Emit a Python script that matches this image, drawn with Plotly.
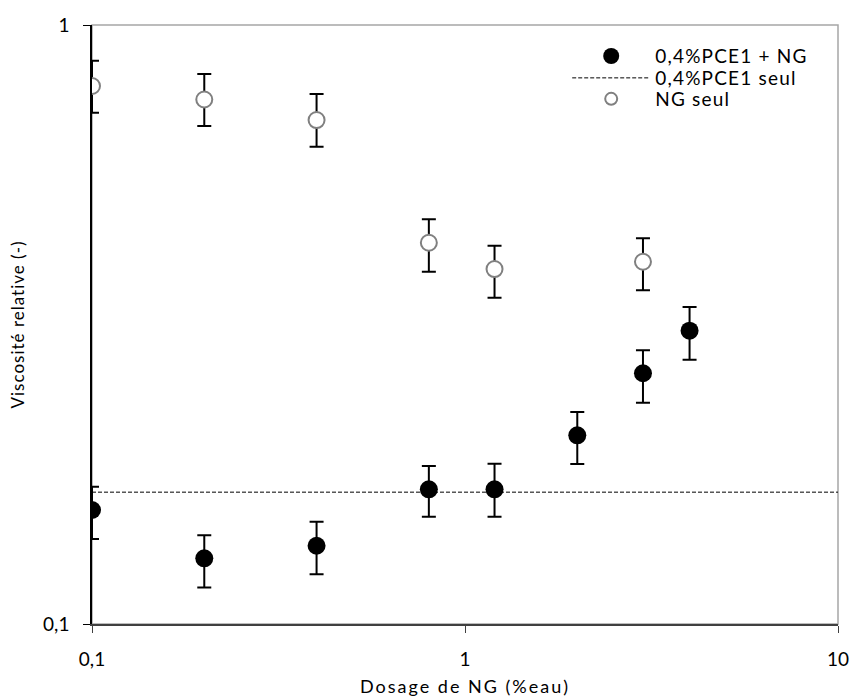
import plotly.graph_objects as go

# Data
dosage_mix = [0.1, 0.2, 0.4, 0.8, 1.2, 2, 3, 4]
visc_mix = [0.155, 0.1287, 0.1351, 0.1678, 0.1678, 0.2065, 0.2622, 0.3088]
visc_mix_hi = [0.1695, 0.1406, 0.1482, 0.1836, 0.1852, 0.2259, 0.2864, 0.3381]
visc_mix_lo = [0.1386, 0.1151, 0.1211, 0.151, 0.151, 0.185, 0.2341, 0.2762]

dosage_ng = [0.1, 0.2, 0.4, 0.8, 1.2, 3]
visc_ng = [0.791, 0.751, 0.694, 0.433, 0.3914, 0.4025]
visc_ng_hi = [0.872, 0.828, 0.767, 0.474, 0.428, 0.4404]
visc_ng_lo = [0.714, 0.678, 0.626, 0.3875, 0.3505, 0.3606]

pce_seul_x = [0.1, 10]
pce_seul = [0.166, 0.166]

x_ticks = [0.1, 1, 10]
x_ticktext = ["0,1", "1", "10"]
y_ticks = [0.1, 1]
y_ticktext = ["0,1", "1"]

FONT = "Lato, Liberation Sans, sans-serif"


def spaced(s, px=1):
    return '<span style="letter-spacing:%spx">%s</span>' % (px, s)


fig = go.Figure()

fig.add_trace(go.Scatter(
    x=dosage_mix, y=visc_mix, mode="markers", name=spaced("0,4%PCE1 + NG", 1.2),
    legend="legend",
    marker=dict(color="black", size=18, line=dict(width=0)),
    error_y=dict(type="data", symmetric=False,
                 array=[h - v for h, v in zip(visc_mix_hi, visc_mix)],
                 arrayminus=[v - l for v, l in zip(visc_mix, visc_mix_lo)],
                 color="black", thickness=2, width=7),
))
fig.add_trace(go.Scatter(
    x=pce_seul_x, y=pce_seul, mode="lines", name=spaced("0,4%PCE1 seul", 1.2),
    legend="legend2",
    line=dict(color="black", width=1, dash="4px,2px"),
))
fig.add_trace(go.Scatter(
    x=dosage_ng, y=visc_ng, mode="markers", name=spaced("NG seul", 1.2),
    legend="legend3",
    marker=dict(color="white", size=16, line=dict(color="#808080", width=2)),
    error_y=dict(type="data", symmetric=False,
                 array=[h - v for h, v in zip(visc_ng_hi, visc_ng)],
                 arrayminus=[v - l for v, l in zip(visc_ng, visc_ng_lo)],
                 color="black", thickness=2, width=7),
))

fig.add_shape(type="rect", xref="paper", yref="paper", x0=0, x1=1, y0=0, y1=1,
              line=dict(color="#a6a6a6", width=1.5), layer="below")

leg_common = dict(xanchor="left", yanchor="middle", bgcolor="rgba(0,0,0,0)",
                  font=dict(family=FONT, size=19, color="black"),
                  itemwidth=78, borderwidth=0)
LEG_X = 0.637

fig.update_layout(
    width=850, height=700,
    margin=dict(l=92, r=12, t=25, b=76, autoexpand=False),
    paper_bgcolor="white", plot_bgcolor="white",
    font=dict(family=FONT, size=19, color="black"),
    showlegend=True,
    legend=dict(x=LEG_X, y=0.948, itemsizing="trace", **leg_common),
    legend2=dict(x=LEG_X, y=0.9115, itemsizing="trace", **leg_common),
    legend3=dict(x=LEG_X, y=0.8765, itemsizing="constant", **leg_common),
    xaxis=dict(type="log", range=[-1, 1], tickvals=x_ticks, ticktext=x_ticktext,
               automargin=False,
               showgrid=False, zeroline=False, showline=True, linecolor="#404040",
               linewidth=2, ticks="outside", ticklen=7, tickcolor="#404040",
               tickfont=dict(size=19), ticklabelstandoff=10,
               title=dict(text=spaced("Dosage de NG (%eau)", 2), font=dict(size=18), standoff=12)),
    yaxis=dict(type="log", range=[-1, 0], tickvals=y_ticks, ticktext=y_ticktext,
               automargin=False,
               showgrid=False, zeroline=False, showline=True, linecolor="black",
               linewidth=1.5, ticks="outside", ticklen=7, tickcolor="black",
               tickfont=dict(size=19), ticklabelstandoff=10,
               title=dict(text=spaced("Viscosité relative (-)", 1), font=dict(size=17), standoff=14)),
)

fig.write_html("out.html", config={"displayModeBar": False},
               post_script="document.body.style.margin='0';")
